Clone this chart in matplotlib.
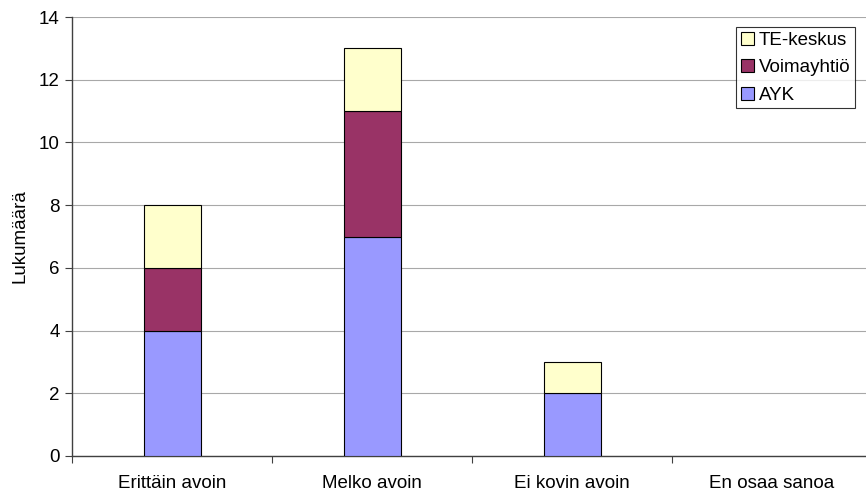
import matplotlib
matplotlib.use("Agg")
import matplotlib.pyplot as plt
import numpy as np

plt.rcParams['font.family'] = ['Liberation Sans', 'DejaVu Sans']

categories = ["Erittäin avoin", "Melko avoin", "Ei kovin avoin", "En osaa sanoa"]
ayk = [4, 7, 2, 0]
voimayhtio = [2, 4, 0, 0]
te_keskus = [2, 2, 1, 0]

FS = 13.5
W, H = 866, 492
fig = plt.figure(figsize=(W / 100, H / 100), dpi=100)
ax = fig.add_axes([72 / W, (H - 456) / H, 800 / W, (456 - 17) / H])

x = np.arange(len(categories))
bw = 0.285
edge = dict(edgecolor="black", linewidth=0.8, width=bw, zorder=3)
b1 = ax.bar(x, ayk, color="#9999FF", label="AYK", **edge)
b2 = ax.bar(x, voimayhtio, bottom=ayk, color="#993366", label="Voimayhtiö", **edge)
bottom3 = np.array(ayk) + np.array(voimayhtio)
b3 = ax.bar(x, te_keskus, bottom=bottom3, color="#FFFFCC", label="TE-keskus", **edge)
# hide zero-height segments
for bars in (b1, b2, b3):
    for r in bars:
        if r.get_height() == 0:
            r.set_visible(False)

ax.set_xlim(-0.5, len(categories) - 0.5)
ax.set_ylim(0, 14)
ax.set_yticks(np.arange(0, 15, 2))
ax.yaxis.grid(True, color="#a8a8a8", linewidth=0.8, zorder=0)
ax.set_axisbelow(True)

# category separators as major ticks, names centred on minor ticks
ax.set_xticks(np.arange(len(categories) + 1) - 0.5)
ax.set_xticklabels([])
ax.set_xticks(x, minor=True)
ax.set_xticklabels(categories, minor=True)
ax.tick_params(axis="x", which="minor", length=0, pad=14, labelsize=FS)
ax.tick_params(axis="x", which="major", length=5, direction="out", color="#404040")
ax.tick_params(axis="y", length=5, direction="out", color="#404040", labelsize=FS, pad=4)

for s in ("top", "right"):
    ax.spines[s].set_visible(False)
for s in ("left", "bottom"):
    ax.spines[s].set_color("#404040")
    ax.spines[s].set_linewidth(1.0)

ax.set_ylabel("Lukumäärä", fontsize=FS, labelpad=7)

handles = [b3, b2, b1]
leg = ax.legend(handles, ["TE-keskus", "Voimayhtiö", "AYK"], loc="upper left",
                bbox_to_anchor=((736 - 72) / 800, 1 - (27 - 17) / (456 - 17)),
                fontsize=FS, frameon=True, fancybox=False, edgecolor="black",
                handlelength=0.7, handleheight=0.7, handletextpad=0.25,
                borderpad=0.25, labelspacing=0.55, borderaxespad=0)
leg.get_frame().set_linewidth(0.8)

fig.savefig("out.png", dpi=100)
